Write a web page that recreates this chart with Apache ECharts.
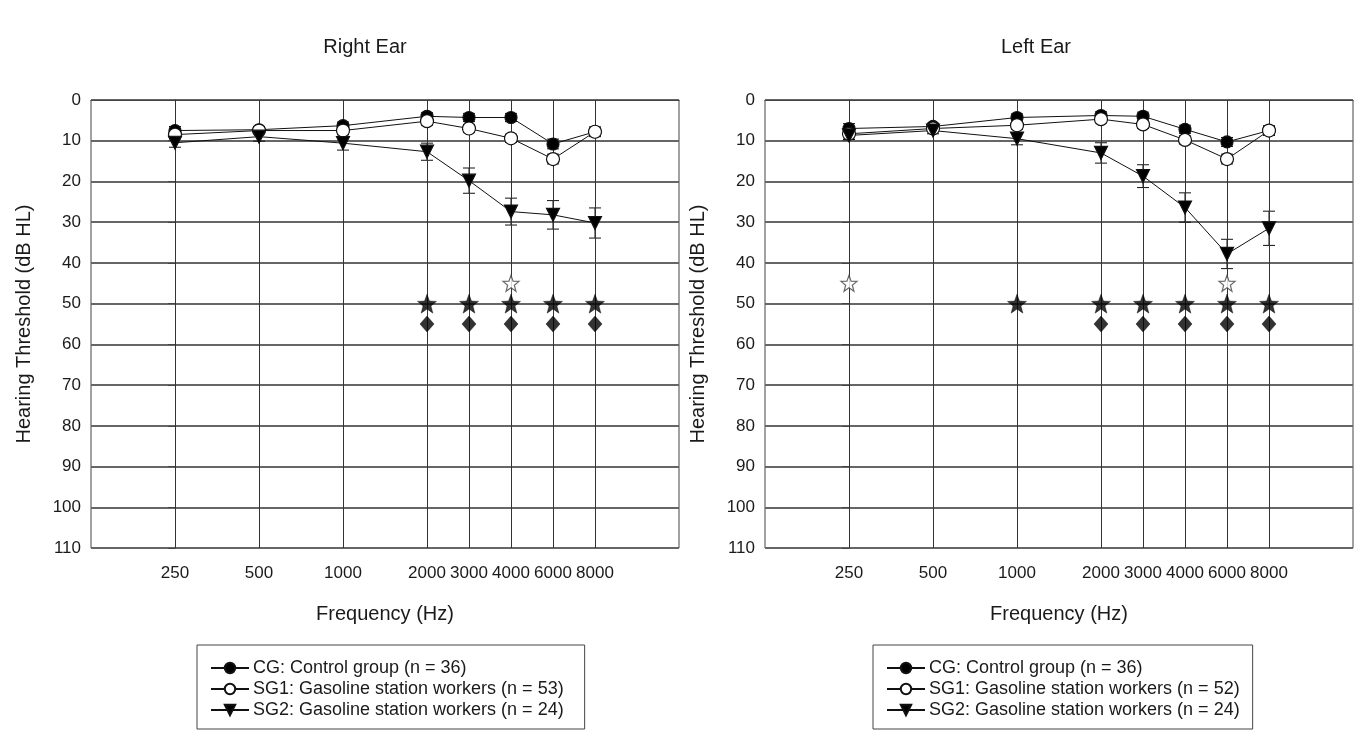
<!DOCTYPE html>
<html><head><meta charset="utf-8">
<script src="https://cdn.jsdelivr.net/npm/echarts@6/dist/echarts.min.js"></script>
<style>html,body{margin:0;padding:0;background:#fff}#c{width:1362px;height:733px}</style>
</head><body><div id="c"></div>
<script>
// ---- data ----
const frequencies = ['250', '500', '1000', '2000', '3000', '4000', '6000', '8000'];
// audiogram scale: octave units, half-octave frequencies at midpoints
const audiogramPos = [0, 1, 2, 3, 3.5, 4, 4.5, 5];
const yTickStep = 10;

const nameCG = 'CG: Control group (n = 36)';
const nameSG1R = 'SG1: Gasoline station workers (n = 53)';
const nameSG1L = 'SG1: Gasoline station workers (n = 52)';
const nameSG2 = 'SG2: Gasoline station workers (n = 24)';

// Right ear (dB HL)
const rightCG = [7.5, 7.3, 6.3, 4.0, 4.3, 4.3, 10.8, 7.8];
const rightCGErr = [1.0, 0.8, 0.9, 0.9, 1.0, 1.0, 1.2, 1.0];
const rightSG1 = [8.5, 7.5, 7.5, 5.2, 7.0, 9.4, 14.5, 7.8];
const rightSG1Err = [1.0, 0.8, 1.0, 1.0, 1.0, 1.0, 1.2, 1.2];
const rightSG2 = [10.5, 9.0, 10.6, 12.7, 19.8, 27.4, 28.2, 30.2];
const rightSG2Err = [1.1, 1.1, 1.7, 2.1, 3.1, 3.3, 3.5, 3.7];
const rightOpenStarFreqs = ['4000'];
const rightStarFreqs = ['2000', '3000', '4000', '6000', '8000'];
const rightDiamondFreqs = ['2000', '3000', '4000', '6000', '8000'];

// Left ear (dB HL)
const leftCG = [7.0, 6.5, 4.3, 3.8, 4.0, 7.2, 10.3, 7.5];
const leftCGErr = [1.2, 0.8, 0.9, 0.9, 1.0, 1.0, 1.1, 1.0];
const leftSG1 = [8.3, 7.0, 6.2, 4.7, 6.0, 9.8, 14.5, 7.5];
const leftSG1Err = [1.0, 0.8, 1.0, 0.9, 1.0, 1.0, 1.2, 1.2];
const leftSG2 = [8.7, 7.5, 9.5, 13.0, 18.7, 26.4, 37.8, 31.5];
const leftSG2Err = [1.0, 0.8, 1.5, 2.5, 2.8, 3.6, 3.6, 4.2];
const leftOpenStarFreqs = ['250', '6000'];
const leftStarFreqs = ['1000', '2000', '3000', '4000', '6000', '8000'];
const leftDiamondFreqs = ['2000', '3000', '4000', '6000', '8000'];

// significance marker levels (dB HL rows where symbols are drawn)
const openStarLevel = 45;
const starLevel = 50;
const diamondLevel = 55;

// ---- chart ----
const FONT = 'Liberation Sans, Arial, Helvetica, sans-serif';
const TXT = '#1a1a1a';
const STAR = 'path://M50,0 L62.3,33 L97.6,34.5 L69.9,56.4 L79.4,90.5 L50,71 L20.6,90.5 L30.1,56.4 L2.4,34.5 L37.7,33 Z';

function pos(f) { return audiogramPos[frequencies.indexOf(f)]; }

function lineSeries(name, values, xi, symbol, size, fill, rotate) {
  return {
    name, type: 'line', xAxisIndex: xi, yAxisIndex: xi, z: 5,
    data: values.map((v, i) => [audiogramPos[i], v]),
    symbol, symbolSize: size, symbolRotate: rotate || 0, showSymbol: true,
    lineStyle: { color: '#111', width: 1 },
    itemStyle: { color: fill, borderColor: '#111', borderWidth: 1.2 },
    emphasis: { disabled: true }, animation: false
  };
}

function errSeries(values, errs, xi) {
  return {
    type: 'custom', xAxisIndex: xi, yAxisIndex: xi, z: 4, silent: true, animation: false,
    data: values.map((v, i) => [audiogramPos[i], v - errs[i], v + errs[i]]),
    encode: { x: 0, y: [1, 2] },
    renderItem(params, api) {
      const x = api.value(0);
      const a = api.coord([x, api.value(1)]);
      const b = api.coord([x, api.value(2)]);
      const hw = 6;
      const st = { stroke: '#111', lineWidth: 1 };
      return { type: 'group', children: [
        { type: 'line', shape: { x1: a[0], y1: a[1], x2: b[0], y2: b[1] }, style: st },
        { type: 'line', shape: { x1: a[0] - hw, y1: a[1], x2: a[0] + hw, y2: a[1] }, style: st },
        { type: 'line', shape: { x1: b[0] - hw, y1: b[1], x2: b[0] + hw, y2: b[1] }, style: st }
      ]};
    }
  };
}

function sigSeries(freqs, level, xi, symbol, size, fill, border) {
  return {
    type: 'scatter', xAxisIndex: xi, yAxisIndex: xi, z: 6, silent: true, animation: false,
    data: freqs.map(f => [pos(f), level]),
    symbol, symbolSize: size,
    itemStyle: { color: fill, borderColor: border || fill, borderWidth: border ? 1.2 : 0.5 }
  };
}

function gridLines(xi) {
  return {
    type: 'line', xAxisIndex: xi, yAxisIndex: xi, data: [], z: 2, silent: true, animation: false,
    markLine: {
      silent: true, symbol: 'none', animation: false, label: { show: false },
      lineStyle: { color: '#333', width: 1, type: 'solid' },
      emphasis: { disabled: true },
      data: audiogramPos.map(p => ({ xAxis: p }))
    }
  };
}

function xAxis(gi) {
  return {
    type: 'value', gridIndex: gi, min: -1, max: 6,
    name: 'Frequency (Hz)', nameLocation: 'middle', nameGap: 56,
    nameTextStyle: { fontFamily: FONT, fontSize: 20, color: TXT },
    axisLine: { show: true, lineStyle: { color: '#444', width: 1 } },
    axisTick: { show: true, customValues: audiogramPos, length: 6, lineStyle: { color: '#333' } },
    axisLabel: {
      customValues: audiogramPos, margin: 17,
      formatter: v => { const i = audiogramPos.indexOf(v); return i >= 0 ? frequencies[i] : ''; },
      fontFamily: FONT, fontSize: 17, color: TXT
    },
    splitLine: { show: false }
  };
}

function yAxis(gi) {
  return {
    type: 'value', gridIndex: gi, inverse: true, min: 0, max: 110, interval: yTickStep,
    name: 'Hearing Threshold (dB HL)', nameLocation: 'middle', nameGap: 57,
    nameTextStyle: { fontFamily: FONT, fontSize: 20, color: TXT },
    axisLine: { show: true, lineStyle: { color: '#444', width: 1 } },
    axisTick: { show: true, length: 7, lineStyle: { color: '#444' } },
    axisLabel: { fontFamily: FONT, fontSize: 17, color: TXT, margin: 10 },
    splitLine: { show: true, lineStyle: { color: '#666', width: 2 } }
  };
}

function legend(left, sg1, padRight) {
  return {
    orient: 'vertical', left, top: 645,
    data: [nameCG, sg1, nameSG2],
    borderColor: '#444', borderWidth: 1, borderRadius: 0,
    padding: [14, padRight, 10, 13], itemGap: 3, itemWidth: 38, itemHeight: 13,
    selectedMode: false,
    textStyle: { fontFamily: FONT, fontSize: 18, color: TXT, padding: [0, 0, 0, -1] }
  };
}

const option = {
  backgroundColor: '#fff',
  animation: false,
  graphic: [
    { type: 'text', x: 365, y: 47, style: { text: 'Right Ear', font: '20px ' + FONT, fill: TXT, textAlign: 'center', textVerticalAlign: 'middle' } },
    { type: 'text', x: 1036, y: 47, style: { text: 'Left Ear', font: '20px ' + FONT, fill: TXT, textAlign: 'center', textVerticalAlign: 'middle' } }
  ],
  grid: [
    { left: 91, top: 100, width: 588, height: 448, show: true, borderColor: '#444', borderWidth: 1, containLabel: false },
    { left: 765, top: 100, width: 588, height: 448, show: true, borderColor: '#444', borderWidth: 1, containLabel: false }
  ],
  xAxis: [xAxis(0), xAxis(1)],
  yAxis: [yAxis(0), yAxis(1)],
  legend: [legend(197, nameSG1R, 21), legend(873, nameSG1L, 13)],
  series: [
    gridLines(0),
    errSeries(rightCG, rightCGErr, 0),
    errSeries(rightSG1, rightSG1Err, 0),
    errSeries(rightSG2, rightSG2Err, 0),
    lineSeries(nameCG, rightCG, 0, 'circle', 12, '#000'),
    lineSeries(nameSG1R, rightSG1, 0, 'circle', 13, '#fff'),
    lineSeries(nameSG2, rightSG2, 0, 'triangle', 13, '#000', 180),
    sigSeries(rightOpenStarFreqs, openStarLevel, 0, STAR, 16, '#fff', '#444'),
    sigSeries(rightStarFreqs, starLevel, 0, STAR, 19, '#000'),
    sigSeries(rightDiamondFreqs, diamondLevel, 0, 'diamond', [14, 16], '#000'),

    gridLines(1),
    errSeries(leftCG, leftCGErr, 1),
    errSeries(leftSG1, leftSG1Err, 1),
    errSeries(leftSG2, leftSG2Err, 1),
    lineSeries(nameCG, leftCG, 1, 'circle', 12, '#000'),
    lineSeries(nameSG1L, leftSG1, 1, 'circle', 13, '#fff'),
    lineSeries(nameSG2, leftSG2, 1, 'triangle', 13, '#000', 180),
    sigSeries(leftOpenStarFreqs, openStarLevel, 1, STAR, 16, '#fff', '#444'),
    sigSeries(leftStarFreqs, starLevel, 1, STAR, 19, '#000'),
    sigSeries(leftDiamondFreqs, diamondLevel, 1, 'diamond', [14, 16], '#000')
  ]
};

const chart = echarts.init(document.getElementById('c'), null, { renderer: 'canvas' });
chart.setOption(option);
</script>
</body></html>
